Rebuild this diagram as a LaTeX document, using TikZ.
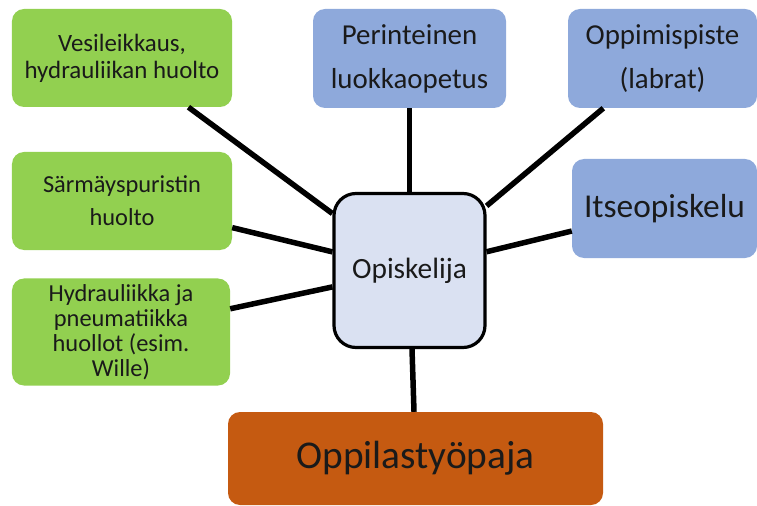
\documentclass[tikz,border=0pt]{standalone}
\usepackage{fontspec}
\setmainfont{Carlito}
\definecolor{gfill}{HTML}{92D050}
\definecolor{bfill}{HTML}{8EA9DB}
\definecolor{cfill}{HTML}{DAE1F2}
\definecolor{ofill}{HTML}{C55A11}
\definecolor{txt}{HTML}{1A1A1A}
\begin{document}
\begin{tikzpicture}[x=1bp,y=-1bp,
  box/.style={rectangle, rounded corners=12bp, inner sep=0pt, align=center, text=txt},
  greenbox/.style={box, fill=gfill},
  bluebox/.style={box, fill=bfill},
  link/.style={line width=5.5bp, draw=black}]
\useasboundingbox (0,0) rectangle (757,506);

\node[greenbox, minimum width=220bp, minimum height=98bp, font=\fontsize{25}{27}\selectfont] (g1) at (122,58) {Vesileikkaus,\\hydrauliikan huolto};
\node[greenbox, minimum width=220bp, minimum height=98bp, font=\fontsize{24.5}{33}\selectfont] (g2) at (122,201) {Särmäyspuristin\\huolto};
\node[greenbox, minimum width=218bp, minimum height=107bp, font=\fontsize{24.5}{25}\selectfont] (g3) at (121,332) {Hydrauliikka ja\\pneumatiikka\\huollot (esim.\\Wille)};

\node[bluebox, minimum width=193bp, minimum height=99bp, font=\fontsize{29}{44}\selectfont] (b1) at (409.5,58.5) {Perinteinen\\luokkaopetus};
\node[bluebox, minimum width=189bp, minimum height=99bp, font=\fontsize{29}{44}\selectfont] (b2) at (662.5,58.5) {Oppimispiste\\(labrat)};
\node[bluebox, minimum width=185bp, minimum height=99bp, font=\fontsize{33.5}{36}\selectfont] (b3) at (664.5,208.5) {Itseopiskelu};

\node[box, fill=cfill, draw=black, line width=3.2bp, rounded corners=22bp, minimum width=151bp, minimum height=154bp, font=\fontsize{29.5}{32}\selectfont] (c) at (409.5,270.5) {Opiskelija};

\node[box, fill=ofill, minimum width=375bp, minimum height=93bp, font=\fontsize{39.5}{42}\selectfont] (o) at (415.5,458.5) {Oppilastyöpaja};

\draw[link] (g1) -- (c);
\draw[link] (g2) -- (c);
\draw[link] (g3) -- (c);
\draw[link] (b1) -- (c);
\draw[link] (b2) -- (c);
\draw[link] (b3) -- (c);
\draw[link] (o) -- (c);
\end{tikzpicture}
\end{document}
